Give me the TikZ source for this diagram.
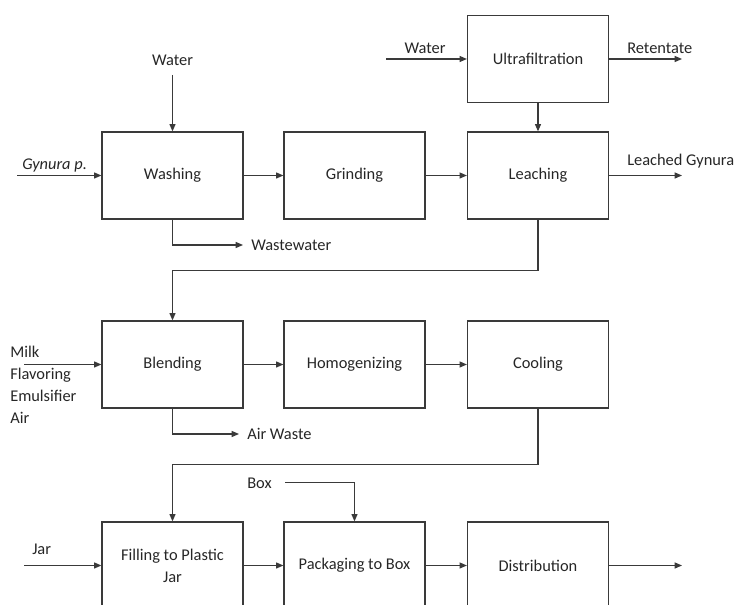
\documentclass[tikz,border=0pt]{standalone}
\usepackage{fontspec}
\setmainfont{Carlito}
\usetikzlibrary{arrows.meta}
\definecolor{linec}{HTML}{3A3A3A}
\definecolor{txtc}{HTML}{262626}
\newcommand{\fsz}{\fontsize{12.3}{16.5}\selectfont}
\begin{document}
\begin{tikzpicture}[x=0.75pt,y=-0.75pt,
  proc/.style={draw=linec, line width=0.9pt, minimum width=105.75pt, minimum height=65.25pt, inner sep=0pt, align=center, text=txtc, font=\fsz},
  lbl/.style={inner sep=0pt, text=txtc, font=\fsz},
  arr/.style={draw=linec, line width=0.9pt, -{Triangle[length=5.5pt,width=4.5pt]}},
  ln/.style={draw=linec, line width=0.9pt}]
\useasboundingbox (0,0) rectangle (744,605);
% process boxes
\node[proc] (wash)  at (172.5,175.5) {Washing};
\node[proc] (grind) at (354.5,175.5) {Grinding};
\node[proc] (leach) at (538,175.5) {Leaching};
\node[proc] (ultra) at (538,59) {Ultrafiltration};
\node[proc] (blend) at (172.5,364.5) {Blending};
\node[proc] (homog) at (354.5,364.5) {Homogenizing};
\node[proc] (cool)  at (538,364.5) {Cooling};
\node[proc] (fill)  at (172.5,565.5) {Filling to Plastic\\Jar};
\node[proc] (pack)  at (354.5,565.5) {Packaging to Box};
\node[proc] (dist)  at (538,565.5) {Distribution};
% labels
\node[lbl] (lwater1) at (172.5,60) {Water};
\node[lbl, anchor=west] (lgyn) at (22,166) {\itshape Gynura p.};
\node[lbl, anchor=west] (lww) at (251,245) {Wastewater};
\node[lbl] (lwater2) at (425,48) {Water};
\node[lbl, anchor=west] (lret) at (627,48) {Retentate};
\node[lbl, anchor=west] (lleach) at (627,161) {Leached Gynura};
\node[lbl, anchor=north west, align=left] (lmilk) at (10,346) {Milk\\Flavoring\\Emulsifier\\Air};
\node[lbl, anchor=west] (law) at (247,434) {Air Waste};
\node[lbl, anchor=west] (lbox) at (247,483) {Box};
\node[lbl, anchor=west] (ljar) at (32,549) {Jar};
% free ends
\coordinate (cw1) at (172.5,75);
\coordinate (cgyn) at (17,175.5);
\coordinate (cww) at (243,245);
\coordinate (cw2) at (386,59);
\coordinate (cret) at (682,59);
\coordinate (cleach) at (682,175.5);
\coordinate (cmilk) at (24,364.5);
\coordinate (caw) at (239,434);
\coordinate (cbox) at (285,482.5);
\coordinate (cjar) at (24,565.5);
\coordinate (cdist) at (682,565.5);
% connectors
\draw[arr] (cw1) -- (wash.north);
\draw[arr] (cgyn) -- (wash.west);
\draw[arr] (wash.south) |- (cww);
\draw[arr] (wash.east) -- (grind.west);
\draw[arr] (grind.east) -- (leach.west);
\draw[arr] (cw2) -- (ultra.west);
\draw[arr] (ultra.east) -- (cret);
\draw[arr] (ultra.south) -- (leach.north);
\draw[arr] (leach.east) -- (cleach);
\draw[arr] (leach.south) -- ++(0,51) -| (blend.north);
\draw[arr] (cmilk) -- (blend.west);
\draw[arr] (blend.south) |- (caw);
\draw[arr] (blend.east) -- (homog.west);
\draw[arr] (homog.east) -- (cool.west);
\draw[arr] (cool.south) -- ++(0,56) -| (fill.north);
\draw[arr] (cbox) -| (pack.north);
\draw[arr] (cjar) -- (fill.west);
\draw[arr] (fill.east) -- (pack.west);
\draw[arr] (pack.east) -- (dist.west);
\draw[arr] (dist.east) -- (cdist);
\end{tikzpicture}
\end{document}
